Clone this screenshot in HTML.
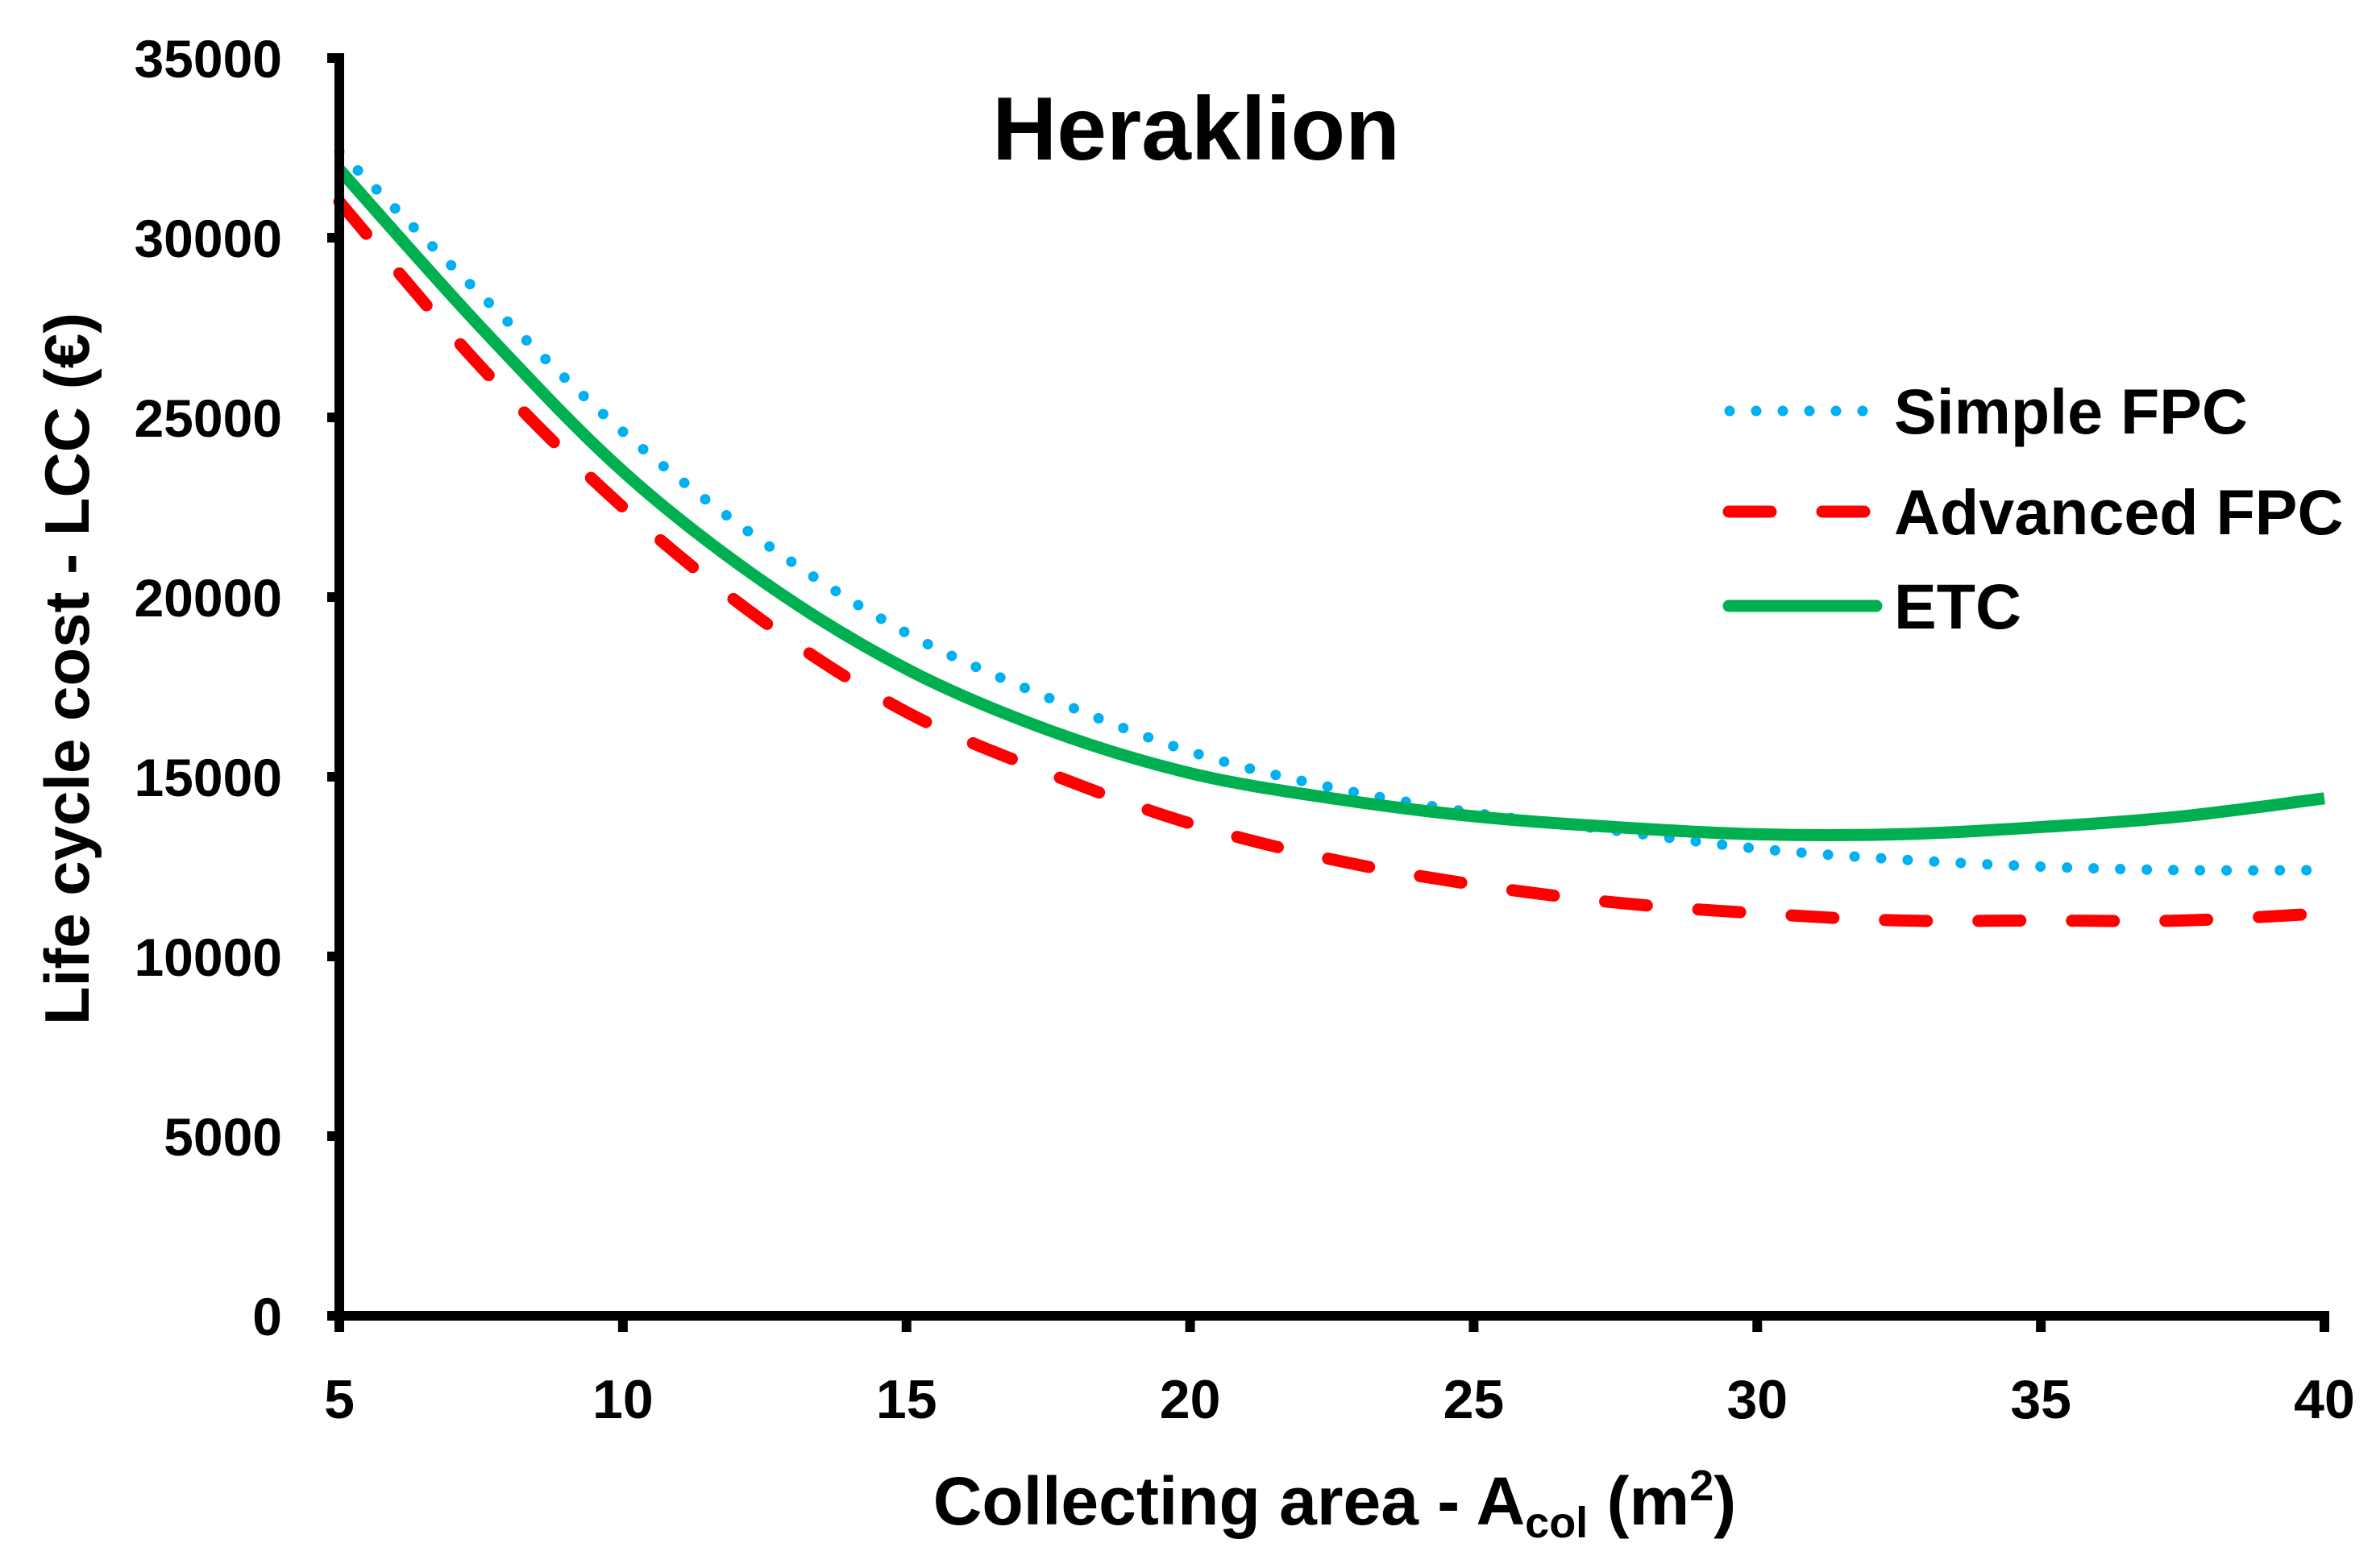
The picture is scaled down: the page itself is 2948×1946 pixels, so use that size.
<!DOCTYPE html>
<html><head><meta charset="utf-8"><style>
html,body{margin:0;padding:0;background:#fff}
svg text{font-family:"Liberation Sans",sans-serif;font-weight:bold;fill:#000}
</style></head><body>
<svg id="chart" width="2948" height="1941" viewBox="0 0 2948 1941" xmlns="http://www.w3.org/2000/svg">
<text x="1484" y="198" font-size="111" text-anchor="middle">Heraklion</text>
<g id="yticks"></g><g id="xticks"></g><g id="series"></g>
<text x="1656" y="1892" font-size="84" text-anchor="middle">Collecting area - A<tspan font-size="54" dy="16">col</tspan><tspan dy="-16"> (m</tspan><tspan font-size="54" dy="-30">2</tspan><tspan dy="30">)</tspan></text>
<text transform="translate(110,830) rotate(-90)" font-size="78" text-anchor="middle">Life cycle cost - LCC (€)</text>
<g>
<line x1="2146" y1="510" x2="2322" y2="510" stroke="#00b0f0" stroke-width="13" stroke-linecap="round" stroke-dasharray="0 33"/>
<text x="2350" y="538" font-size="79">Simple FPC</text>
<line x1="2145" y1="635" x2="2325" y2="635" stroke="#ff0000" stroke-width="15" stroke-linecap="round" stroke-dasharray="52 64"/>
<text x="2350" y="663" font-size="79">Advanced FPC</text>
<line x1="2145" y1="752" x2="2328" y2="752" stroke="#00b050" stroke-width="15" stroke-linecap="round"/>
<text x="2350" y="780" font-size="79">ETC</text>
</g>
<line x1="421" y1="66" x2="421" y2="1640" stroke="#000" stroke-width="12"/>
<line x1="415" y1="1633" x2="2890" y2="1633" stroke="#000" stroke-width="12"/>
</svg>
<script>
const xValues = [5, 7.5, 10, 12.5, 15, 17.5, 20, 22.5, 25, 27.5, 30, 32.5, 35, 37.5, 40];
const simpleFPC = [32400, 28400, 24600, 21500, 19000, 17200, 15700, 14700, 14000, 13500, 13000, 12700, 12500, 12400, 12400];
const advancedFPC = [31000, 26400, 22500, 19300, 16800, 15100, 13700, 12700, 12000, 11500, 11200, 11000, 11000, 11000, 11200];
const etc = [31900, 27500, 23500, 20400, 18000, 16300, 15100, 14400, 13900, 13600, 13400, 13400, 13600, 13900, 14400];
const yTicks = [0, 5000, 10000, 15000, 20000, 25000, 30000, 35000];
const xTicks = [5, 10, 15, 20, 25, 30, 35, 40];
const NS = "http://www.w3.org/2000/svg";
const X0 = 421, X1 = 2884, Y0 = 1633, Y1 = 72;
function sx(v){ return X0 + (v - 5) / 35 * (X1 - X0); }
function sy(v){ return Y0 - v / 35000 * (Y0 - Y1); }
function mk(tag, attrs){ const e = document.createElementNS(NS, tag); for (const k in attrs) e.setAttribute(k, attrs[k]); return e; }
const yg = document.getElementById('yticks');
yTicks.forEach(v => {
  const t = mk('line', {x1: 406, x2: 421, y1: sy(v), y2: sy(v), stroke: '#000', 'stroke-width': 12});
  
  
  yg.appendChild(t);
  const l = mk('text', {x: 350, y: sy(v) + 24, 'font-size': 66, 'text-anchor': 'end'});
  l.textContent = v;
  
  
  yg.appendChild(l);
});
const xg = document.getElementById('xticks');
xTicks.forEach(v => {
  const t = mk('line', {x1: sx(v), x2: sx(v), y1: 1633, y2: 1653, stroke: '#000', 'stroke-width': 12});
  
  
  xg.appendChild(t);
  const l = mk('text', {x: sx(v), y: 1760, 'font-size': 68, 'text-anchor': 'middle'});
  l.textContent = v;
  
  
  xg.appendChild(l);
});
function pathFor(vals){
  const p = vals.map((v, i) => [sx(xValues[i]), sy(v)]);
  let d = 'M' + p[0][0] + ',' + p[0][1];
  for (let i = 0; i < p.length - 1; i++) {
    const a = p[i - 1] || p[i], b = p[i], c = p[i + 1], e = p[i + 2] || c;
    d += ' C' + (b[0] + (c[0] - a[0]) / 6) + ',' + (b[1] + (c[1] - a[1]) / 6) + ' ' + (c[0] - (e[0] - b[0]) / 6) + ',' + (c[1] - (e[1] - b[1]) / 6) + ' ' + c[0] + ',' + c[1];
  }
  return d;
}
const sg = document.getElementById('series');
const s1 = mk('path', {d: pathFor(simpleFPC), fill: 'none', stroke: '#00b0f0', 'stroke-width': 13, 'stroke-linecap': 'round', 'stroke-dasharray': '0 33'});


sg.appendChild(s1);
const s2 = mk('path', {d: pathFor(advancedFPC), fill: 'none', stroke: '#ff0000', 'stroke-width': 15, 'stroke-linecap': 'round', 'stroke-dasharray': '52 64'});


sg.appendChild(s2);
const s3 = mk('path', {d: pathFor(etc), fill: 'none', stroke: '#00b050', 'stroke-width': 15});


sg.appendChild(s3);
</script>
</body></html>
